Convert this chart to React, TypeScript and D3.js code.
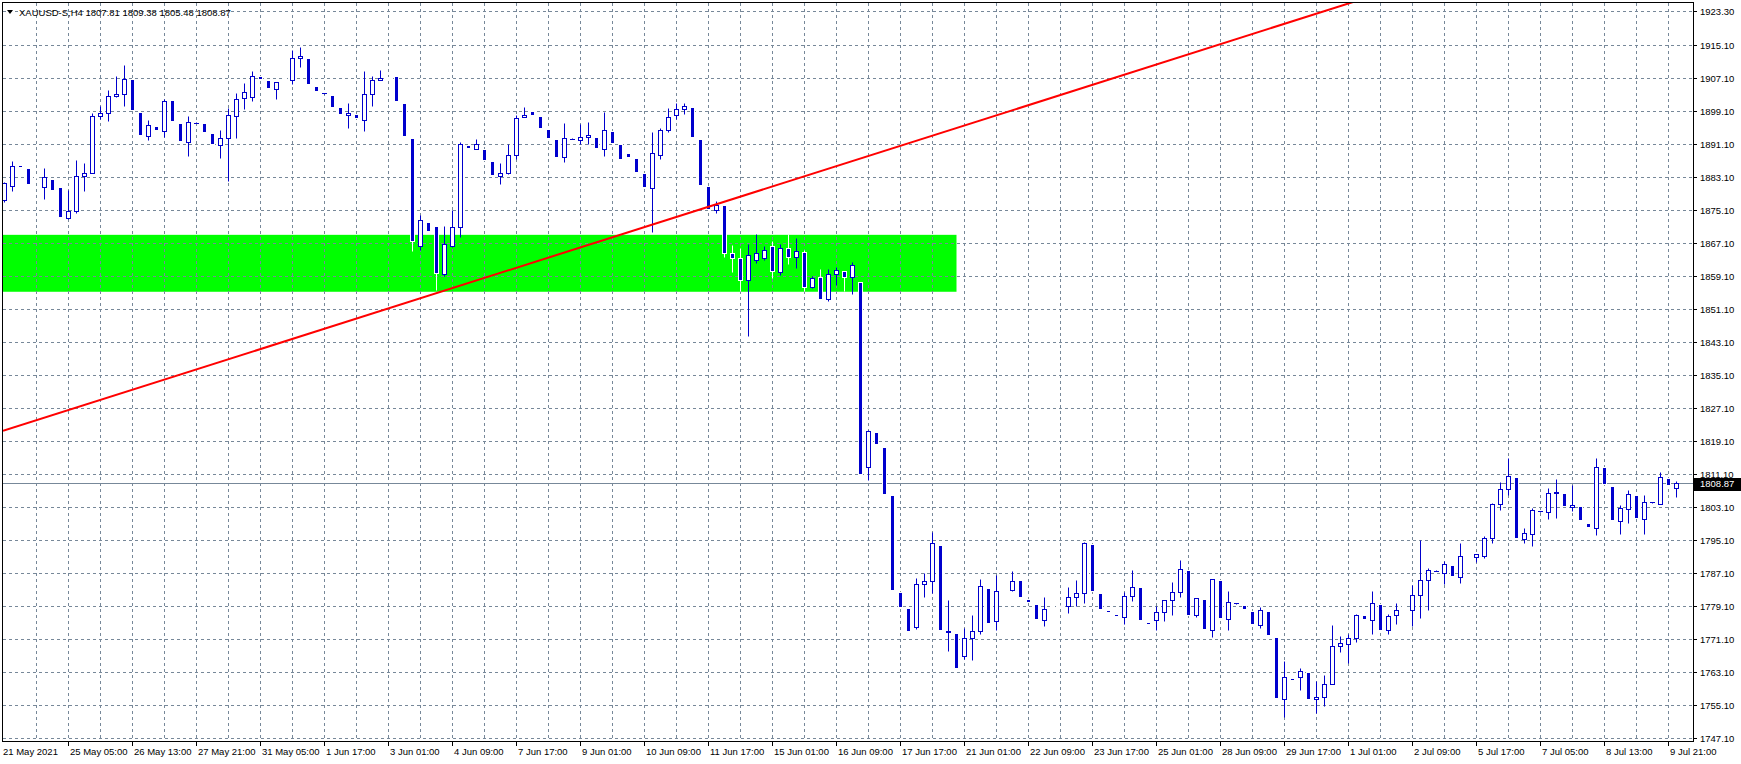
import * as d3 from "d3"

// price grid of the right scale, step 8
const yTicks = [
  1747.1, 1755.1, 1763.1, 1771.1, 1779.1, 1787.1, 1795.1, 1803.1, 1811.1, 1819.1, 1827.1, 1835.1,
  1843.1, 1851.1, 1859.1, 1867.1, 1875.1, 1883.1, 1891.1, 1899.1, 1907.1, 1915.1,
]
const yTopLabel = 1923.3

// bar index -> time label on the bottom scale
const xLabels: [number, string][] = [
  [0, "21 May 2021"], [8, "25 May 05:00"], [16, "26 May 13:00"], [24, "27 May 21:00"],
  [32, "31 May 05:00"], [40, "1 Jun 17:00"], [48, "3 Jun 01:00"], [56, "4 Jun 09:00"],
  [64, "7 Jun 17:00"], [72, "9 Jun 01:00"], [80, "10 Jun 09:00"], [88, "11 Jun 17:00"],
  [96, "15 Jun 01:00"], [104, "16 Jun 09:00"], [112, "17 Jun 17:00"], [120, "21 Jun 01:00"],
  [128, "22 Jun 09:00"], [136, "23 Jun 17:00"], [144, "25 Jun 01:00"], [152, "28 Jun 09:00"],
  [160, "29 Jun 17:00"], [168, "1 Jul 01:00"], [176, "2 Jul 09:00"], [184, "5 Jul 17:00"],
  [192, "7 Jul 05:00"], [200, "8 Jul 13:00"], [208, "9 Jul 21:00"],
]

// H4 bars, [open, high, low, close]
const bars: [number, number, number, number][] = [
  [1877.5, 1881.8, 1877.0, 1881.6], [1881.0, 1886.9, 1879.6, 1885.8], [1885.9, 1885.9, 1885.5, 1885.5], [1885.2, 1885.2, 1881.4, 1881.4],
  [1883.2, 1883.3, 1882.9, 1883.0], [1880.7, 1885.4, 1877.7, 1883.0], [1882.7, 1882.7, 1879.9, 1879.9], [1880.6, 1880.6, 1873.4, 1873.4],
  [1873.1, 1879.9, 1873.0, 1874.9], [1874.8, 1887.1, 1874.4, 1883.4], [1883.3, 1886.6, 1879.6, 1884.1], [1884.1, 1898.5, 1884.1, 1898.0],
  [1898.0, 1900.3, 1897.1, 1898.7], [1898.7, 1904.3, 1896.7, 1902.8], [1902.8, 1907.7, 1902.6, 1903.3], [1903.3, 1910.2, 1900.3, 1906.9],
  [1906.8, 1906.8, 1899.3, 1899.3], [1898.8, 1898.8, 1893.3, 1893.3], [1893.1, 1896.8, 1892.1, 1895.8], [1895.5, 1895.5, 1894.4, 1894.4],
  [1894.3, 1902.1, 1892.9, 1901.6], [1901.7, 1901.7, 1896.7, 1896.7], [1896.3, 1896.3, 1891.8, 1891.8], [1891.7, 1898.0, 1888.2, 1896.5],
  [1896.3, 1896.4, 1896.2, 1896.3], [1896.1, 1896.1, 1894.0, 1894.0], [1893.7, 1893.7, 1891.1, 1891.1], [1890.9, 1894.6, 1887.7, 1892.6],
  [1892.6, 1899.9, 1882.1, 1898.2], [1898.0, 1903.4, 1892.5, 1902.1], [1902.2, 1905.8, 1899.7, 1903.6], [1902.5, 1908.7, 1901.5, 1907.7],
  [1907.7, 1907.7, 1906.9, 1906.9], [1906.5, 1906.5, 1904.7, 1904.7], [1904.5, 1906.1, 1902.0, 1906.05], [1907.2, 1907.3, 1906.9, 1907.0],
  [1906.7, 1913.8, 1905.7, 1912.0], [1912.0, 1914.5, 1909.8, 1912.4], [1911.9, 1911.9, 1905.6, 1905.6], [1905.1, 1905.1, 1903.9, 1903.9],
  [1903.4, 1903.5, 1903.3, 1903.4], [1902.9, 1902.9, 1900.1, 1900.1], [1900.0, 1900.0, 1898.3, 1898.3], [1898.1, 1901.0, 1895.0, 1898.5],
  [1898.3, 1898.3, 1897.3, 1897.3], [1896.9, 1908.7, 1894.3, 1903.1], [1903.1, 1907.6, 1900.3, 1906.7], [1906.7, 1909.0, 1906.7, 1907.2],
  [1907.3, 1907.4, 1907.0, 1907.1], [1907.6, 1907.6, 1901.5, 1901.5], [1901.0, 1901.0, 1893.0, 1893.0], [1892.6, 1892.6, 1865.1, 1867.6],
  [1866.4, 1873.9, 1865.5, 1872.7], [1872.3, 1872.3, 1870.0, 1870.0], [1871.1, 1871.1, 1855.7, 1859.9], [1859.5, 1871.1, 1859.1, 1866.8],
  [1866.3, 1875.0, 1866.2, 1871.0], [1871.0, 1891.7, 1868.5, 1891.2], [1890.9, 1890.9, 1890.1, 1890.1], [1890.0, 1892.2, 1890.0, 1891.2],
  [1890.0, 1890.0, 1887.2, 1887.2], [1886.9, 1886.9, 1883.6, 1883.6], [1883.3, 1886.4, 1881.4, 1884.1], [1884.1, 1891.0, 1883.8, 1888.5],
  [1888.5, 1898.1, 1887.4, 1897.5], [1897.6, 1900.0, 1897.6, 1898.1], [1899.0, 1899.0, 1898.1, 1898.1], [1897.8, 1897.8, 1895.0, 1895.0],
  [1894.7, 1894.7, 1892.6, 1892.6], [1892.2, 1892.2, 1887.9, 1887.9], [1888.0, 1896.1, 1886.7, 1892.6], [1892.4, 1892.5, 1892.3, 1892.4],
  [1892.1, 1895.9, 1891.2, 1892.9], [1892.8, 1896.4, 1891.2, 1893.2], [1892.9, 1892.9, 1890.1, 1890.1], [1890.0, 1898.8, 1888.2, 1894.4],
  [1894.2, 1894.2, 1891.3, 1891.3], [1891.0, 1891.0, 1887.5, 1887.5], [1888.8, 1888.8, 1887.9, 1887.9], [1887.6, 1887.6, 1884.3, 1884.3],
  [1884.0, 1884.0, 1880.6, 1880.6], [1880.4, 1894.0, 1869.7, 1888.8], [1888.4, 1894.9, 1887.5, 1894.6], [1894.5, 1899.8, 1894.0, 1897.7],
  [1898.1, 1901.1, 1897.1, 1899.7], [1899.7, 1901.0, 1898.4, 1900.2], [1900.0, 1900.0, 1892.8, 1892.8], [1892.2, 1892.2, 1881.1, 1881.1],
  [1880.8, 1880.8, 1875.4, 1875.4], [1875.2, 1877.2, 1874.3, 1876.2], [1876.2, 1876.2, 1863.7, 1864.7], [1864.7, 1866.5, 1860.0, 1863.4],
  [1863.5, 1866.0, 1855.4, 1858.1], [1858.1, 1866.8, 1844.5, 1864.3], [1863.0, 1869.2, 1862.2, 1864.6], [1863.4, 1866.3, 1862.9, 1865.5],
  [1866.4, 1867.7, 1858.6, 1860.3], [1860.0, 1866.8, 1859.4, 1865.9], [1865.9, 1869.2, 1862.0, 1863.7], [1863.8, 1868.2, 1861.0, 1865.2],
  [1864.9, 1865.3, 1855.4, 1856.5], [1856.5, 1859.1, 1856.1, 1858.5], [1858.9, 1860.7, 1853.6, 1853.6], [1853.5, 1860.9, 1853.0, 1859.7],
  [1859.6, 1861.3, 1856.8, 1860.5], [1860.3, 1860.3, 1855.4, 1858.9], [1858.9, 1862.6, 1854.7, 1861.7], [1857.6, 1857.6, 1811.0, 1811.0],
  [1812.8, 1821.8, 1809.6, 1821.6], [1821.4, 1821.4, 1818.3, 1818.3], [1817.7, 1817.7, 1806.2, 1806.2], [1805.9, 1805.9, 1783.1, 1783.1],
  [1782.6, 1782.6, 1778.8, 1778.8], [1778.5, 1778.5, 1773.0, 1773.0], [1773.9, 1786.0, 1773.5, 1784.4], [1784.4, 1787.2, 1781.2, 1785.1],
  [1785.1, 1797.0, 1782.3, 1794.4], [1794.0, 1794.0, 1773.2, 1773.2], [1772.7, 1780.6, 1768.3, 1773.1], [1772.6, 1772.6, 1764.0, 1764.0],
  [1766.9, 1773.8, 1766.2, 1771.3], [1771.3, 1776.8, 1766.1, 1773.1], [1773.0, 1785.7, 1772.2, 1784.0], [1783.5, 1783.5, 1775.1, 1775.1],
  [1775.5, 1786.6, 1773.4, 1782.7], [1782.9, 1783.0, 1782.6, 1782.7], [1782.9, 1787.7, 1782.7, 1785.2], [1785.3, 1785.3, 1781.2, 1781.2],
  [1780.9, 1780.9, 1780.0, 1780.0], [1779.7, 1779.7, 1775.9, 1775.9], [1775.7, 1781.4, 1774.2, 1778.4], [1779.1, 1779.3, 1778.8, 1779.0],
  [1779.2, 1779.4, 1778.9, 1779.0], [1779.1, 1783.8, 1777.3, 1781.3], [1781.3, 1785.5, 1779.0, 1782.3], [1782.3, 1794.6, 1779.8, 1794.4],
  [1794.2, 1794.2, 1782.7, 1782.7], [1782.3, 1782.3, 1778.3, 1778.3], [1778.2, 1778.2, 1777.6, 1777.6], [1777.2, 1777.2, 1776.6, 1776.6],
  [1776.4, 1782.5, 1774.8, 1781.5], [1781.5, 1787.9, 1780.2, 1783.7], [1783.6, 1783.6, 1775.6, 1775.6], [1775.3, 1775.3, 1774.7, 1774.7],
  [1775.7, 1779.0, 1773.4, 1777.65], [1777.65, 1780.6, 1775.55, 1780.56], [1780.56, 1785.0, 1776.8, 1782.5], [1782.5, 1790.35, 1781.2, 1788.1],
  [1787.9, 1787.9, 1777.0, 1777.0], [1776.9, 1781.05, 1776.5, 1781.0], [1780.9, 1780.9, 1773.5, 1773.5], [1773.3, 1785.7, 1771.5, 1785.7],
  [1785.5, 1785.5, 1776.1, 1776.1], [1775.95, 1782.8, 1773.2, 1780.1], [1779.8, 1779.9, 1779.7, 1779.8], [1779.4, 1779.4, 1778.3, 1778.3],
  [1778.0, 1778.0, 1774.7, 1774.7], [1774.5, 1778.95, 1773.8, 1778.1], [1777.95, 1777.95, 1772.0, 1772.0], [1771.7, 1771.7, 1756.7, 1756.7],
  [1756.5, 1765.8, 1752.3, 1761.9], [1761.7, 1761.7, 1761.1, 1761.1], [1761.9, 1764.1, 1758.8, 1763.3], [1763.2, 1763.2, 1756.6, 1756.6],
  [1756.5, 1761.0, 1753.2, 1757.0], [1757.0, 1762.4, 1754.8, 1760.3], [1760.2, 1774.6, 1760.2, 1769.4], [1769.4, 1771.9, 1768.0, 1770.1],
  [1769.8, 1772.2, 1765.4, 1771.4], [1771.3, 1777.2, 1770.3, 1776.8], [1776.8, 1776.8, 1775.9, 1775.9], [1775.7, 1782.8, 1772.2, 1779.8],
  [1779.7, 1779.7, 1773.4, 1773.4], [1773.3, 1777.2, 1772.4, 1776.7], [1776.9, 1779.8, 1774.8, 1778.1], [1779.2, 1779.3, 1778.9, 1779.0],
  [1778.1, 1784.3, 1774.2, 1781.8], [1781.8, 1795.0, 1776.1, 1785.4], [1785.4, 1788.4, 1778.05, 1787.8], [1787.7, 1787.8, 1787.6, 1787.7],
  [1787.1, 1789.95, 1784.45, 1789.3], [1789.1, 1789.1, 1786.3, 1786.3], [1786.15, 1794.4, 1784.6, 1791.2], [1791.2, 1791.3, 1790.9, 1791.0],
  [1791.0, 1791.7, 1789.7, 1791.7], [1791.2, 1796.1, 1790.7, 1795.6], [1795.5, 1804.1, 1794.3, 1803.85], [1803.85, 1809.2, 1802.3, 1807.5],
  [1807.5, 1815.1, 1806.1, 1810.6], [1810.4, 1810.4, 1795.5, 1795.5], [1795.3, 1797.9, 1794.3, 1796.8], [1796.5, 1802.9, 1793.75, 1802.4],
  [1802.1, 1802.2, 1802.0, 1802.1], [1801.9, 1807.6, 1800.1, 1806.5], [1806.4, 1809.8, 1800.5, 1806.8], [1806.4, 1806.4, 1803.3, 1803.3],
  [1803.1, 1808.4, 1802.2, 1803.6], [1803.45, 1803.45, 1799.9, 1799.9], [1799.3, 1799.3, 1798.2, 1798.2], [1797.95, 1815.1, 1796.25, 1812.8],
  [1812.7, 1812.7, 1808.6, 1808.6], [1808.3, 1808.3, 1799.9, 1799.9], [1799.7, 1803.7, 1796.5, 1802.9], [1802.6, 1807.1, 1799.2, 1806.3],
  [1806.1, 1806.1, 1800.4, 1800.4], [1800.2, 1806.1, 1796.5, 1804.3], [1804.2, 1804.3, 1804.1, 1804.2], [1803.9, 1811.7, 1803.9, 1810.4],
  [1810.2, 1810.2, 1808.4, 1808.4], [1807.81, 1809.38, 1805.48, 1808.87],
]

// rectangle object (bar range, price range) and trend line anchors (bar, price)
const zoneBars = [-20, 119]
const zonePrices = [1855.4, 1869.2]
const trendBars = [0, 100]
const trendPrices = [1821.8, 1883.4]

const symbol = "XAUUSD-S,H4"
const lastBar = bars[bars.length - 1]
const bid = 1808.87

const W = 1741
const H = 764
const left = 3
const right = 1693
const top = 3
const bottom = 741

const BLUE = "#0000cd"
const GRID = "#778899"
const FONT = "'Liberation Sans', Arial, sans-serif"

export default function App() {
  const x = d3.scaleLinear().domain([0, 209]).range([4.5, 4.5 + 8 * 209])
  const y = d3.scaleLinear().domain([1747.1, 1915.1]).range([738.5, 45.5])
  const snap = (v: number) => Math.round(v - 0.5) + 0.5

  const vGrid = d3.range(4, 212, 4)
  const hGrid = [...yTicks, yTopLabel]

  // trend line extended to the right edge
  const slope = (trendPrices[1] - trendPrices[0]) / (trendBars[1] - trendBars[0])
  const kEnd = x.invert(right)
  const kStart = x.invert(left)
  const tLine = d3.line<[number, number]>()
    .x((d) => x(d[0]))
    .y((d) => y(d[1]))
  const trendPath = tLine([
    [kStart, trendPrices[0] + (kStart - trendBars[0]) * slope],
    [kEnd, trendPrices[0] + (kEnd - trendBars[0]) * slope],
  ])

  return (
    <svg
      width={W}
      height={H}
      style={{ position: "absolute", left: 0, top: 0, background: "#fff" }}
      fontFamily={FONT}
    >
      <defs>
        <clipPath id="plot">
          <rect x={left} y={top} width={right - left} height={bottom - top} />
        </clipPath>
      </defs>
      <rect x={0} y={0} width={W} height={H} fill="#fff" />

      <g clipPath="url(#plot)">
        {/* rectangle object, drawn as background */}
        <rect
          x={x(zoneBars[0]) - 2}
          y={y(zonePrices[1])}
          width={x(zoneBars[1]) - x(zoneBars[0]) + 2}
          height={y(zonePrices[0]) - y(zonePrices[1])}
          fill="#00ff00"
        />

        {/* grid */}
        {hGrid.map((p) => (
          <line key={"h" + p} x1={left} x2={right} y1={snap(y(p))} y2={snap(y(p))}
            stroke={GRID} strokeDasharray="3,3" />
        ))}
        {vGrid.map((k) => (
          <line key={"v" + k} x1={x(k)} x2={x(k)} y1={top} y2={bottom}
            stroke={GRID} strokeDasharray="3,3" />
        ))}

        {/* bid line */}
        <line x1={left} x2={right} y1={snap(y(bid))} y2={snap(y(bid))} stroke={GRID} />

        {/* candles */}
        {bars.map(([o, h, l, c], k) => {
          const up = c >= o
          const cx = x(k)
          const bTop = snap(y(Math.max(o, c)))
          const bBot = snap(y(Math.min(o, c)))
          const edge = up ? BLUE : "#fff"
          return (
            <g key={k}>
              <line x1={cx} x2={cx} y1={snap(y(h))} y2={snap(y(l)) + 0.01} stroke={edge} />
              {bBot - bTop < 1 ? (
                <line x1={cx - 2.5} x2={cx + 2.5} y1={bTop} y2={bTop} stroke={edge} />
              ) : (
                <rect x={cx - 2} y={bTop} width={4} height={bBot - bTop}
                  fill={up ? "#fff" : BLUE} stroke={edge} />
              )}
            </g>
          )
        })}

        {/* trend line */}
        <path d={trendPath ?? ""} stroke="#ff0000" strokeWidth={2} fill="none" />
      </g>

      {/* frame */}
      <rect x={left - 0.5} y={top - 0.5} width={right - left + 1} height={bottom - top + 1}
        fill="none" stroke="#000" />

      {/* header */}
      <path d="M7,10 L13,10 L10,14 Z" fill="#000" />
      <text x={19} y={16} fontSize={9.5} fill="#000">
        {`${symbol}  ${lastBar.map((v) => v.toFixed(2)).join(" ")}`}
      </text>

      {/* price scale */}
      {hGrid.map((p) => (
        <g key={"yt" + p}>
          <line x1={right + 0.5} x2={right + 4} y1={snap(y(p))} y2={snap(y(p))} stroke="#000" />
          <text x={1700} y={y(p) + 3.5} fontSize={9.5} fill="#000">{p.toFixed(2)}</text>
        </g>
      ))}
      <rect x={right + 1} y={Math.round(y(bid)) - 6} width={W - right - 1} height={13} fill="#000" />
      <text x={1700} y={y(bid) + 3.5} fontSize={9.5} fill="#fff">{bid.toFixed(2)}</text>

      {/* time scale */}
      {xLabels.map(([k, label]) => (
        <g key={"xt" + k}>
          {k > 0 && (
            <line x1={x(k)} x2={x(k)} y1={bottom + 0.5} y2={bottom + 5} stroke="#000" />
          )}
          <text x={k === 0 ? 3 : x(k) + 1.5} y={755} fontSize={9.5} fill="#000">{label}</text>
        </g>
      ))}
    </svg>
  )
}
